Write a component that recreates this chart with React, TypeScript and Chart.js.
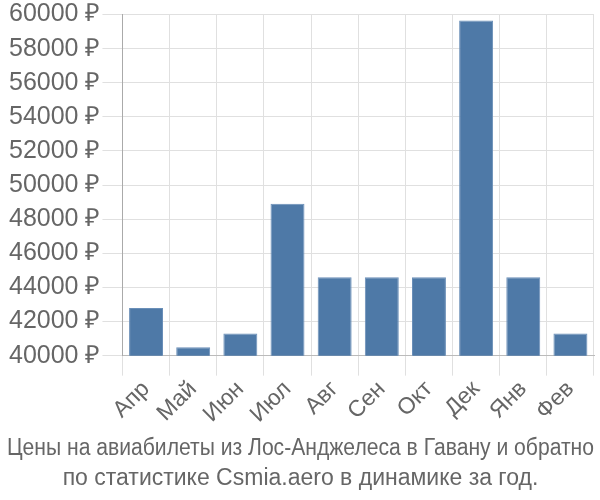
import React, { useEffect, useRef } from "react";
import { Chart, registerables } from "chart.js";

Chart.register(...registerables);

const categories = ["Апр", "Май", "Июн", "Июл", "Авг", "Сен", "Окт", "Дек", "Янв", "Фев"];
const prices = [42800, 40500, 41300, 48900, 44600, 44600, 44600, 59650, 44600, 41300];
const titleLines = [
  "Цены на авиабилеты из Лос-Анджелеса в Гавану и обратно",
  "по статистике Csmia.aero в динамике за год.",
];

export default function App() {
  const ref = useRef<HTMLCanvasElement | null>(null);

  useEffect(() => {
    document.body.style.margin = "0";
    const canvas = ref.current;
    if (!canvas) return;
    const font = "'Liberation Sans', Arial, sans-serif";
    const chart = new Chart(canvas, {
      type: "bar",
      data: {
        labels: categories,
        datasets: [
          {
            data: prices,
            backgroundColor: "#4e79a7",
            borderColor: "#6a8fb8",
            borderWidth: 1,
          },
        ],
      },
      options: {
        animation: false,
        responsive: false,
        maintainAspectRatio: false,
        layout: { padding: { left: 7, right: 6, top: 0, bottom: 0 } },
        plugins: {
          legend: { display: false },
          tooltip: { enabled: false },
          title: {
            display: true,
            position: "bottom",
            text: titleLines,
            color: "#666",
            font: { family: font, size: 23, weight: "normal", lineHeight: 1.3 },
            padding: { top: 6, bottom: 6 },
          },
        },
        scales: {
          x: {
            grid: { color: "#e0e0e0", tickLength: 20, offset: true },
            border: { color: "#bbb" },
            ticks: {
              color: "#666",
              font: { family: font, size: 23 },
              maxRotation: 45,
              minRotation: 45,
              padding: 0,
            },
          },
          y: {
            min: 40000,
            max: 60000,
            grid: { color: "#e0e0e0", tickLength: 20 },
            border: { color: "#aaa" },
            ticks: {
              stepSize: 2000,
              color: "#666",
              font: { family: font, size: 25, lineHeight: 1 },
              padding: 2,
              callback: (v: any) => v + " ₽",
            },
          },
        },
      },
    });
    return () => chart.destroy();
  }, []);

  return <canvas ref={ref} width={600} height={500} style={{ display: "block" }} />;
}
